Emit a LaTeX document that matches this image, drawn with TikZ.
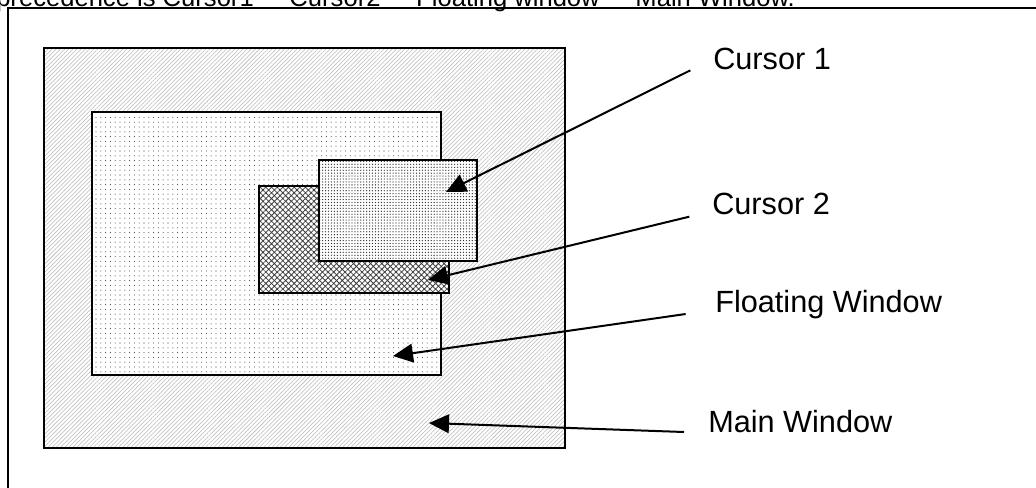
\documentclass[tikz,border=0pt]{standalone}
\usepackage{fontspec}
\setmainfont{Liberation Sans}
\newfontfamily\arrowfont{DejaVu Sans}
\usetikzlibrary{arrows.meta,patterns.meta}
\tikzset{
 win/.style={
 rectangle,
 draw=black,
 line width=1.4pt,
 inner sep=0pt,
 preaction={fill=white}
 },
 mainwin/.style={win, pattern={Lines[angle=45,distance=2.2pt,line width=0.4pt]}, pattern color=black!28},
 floatwin/.style={win, pattern={Dots[distance=3.6pt,radius=0.4pt]}, pattern color=black!75},
 cursortwo/.style={win, pattern={Hatch[angle=45,distance=3pt,line width=0.6pt]}, pattern color=black!75},
 cursorone/.style={win, pattern={Dots[distance=2.2pt,radius=0.5pt]}, pattern color=black!80},
 lbl/.style={anchor=base west, inner sep=0pt, font=\fontsize{23}{27}\selectfont},
 pointer/.style={-{Triangle[length=15pt,width=14pt]}, line width=1.5pt}
}

\begin{document}
\begin{tikzpicture}[x=0.75pt, y=-0.75pt]
 \useasboundingbox (0,0) rectangle (1036,487);
 \clip (0,0) rectangle (1036,487);

 % caption line, cut by the page top
 \node[anchor=base west, inner sep=0pt, font=\fontsize{19.2}{22}\selectfont] (note) at (-4,6)
 {precedence is Cursor1 \raisebox{4pt}{\arrowfont →} Cursor2 \raisebox{4pt}{\arrowfont →} Floating window \raisebox{4pt}{\arrowfont →} Main Window.};
 \draw[line width=1.4pt] (8,8) rectangle (1060,520);

 % windows, back to front
 \node[mainwin, minimum width=390.75pt, minimum height=300pt] (main) at (304.5,248) {};
 \node[floatwin, minimum width=261.75pt, minimum height=197.25pt] (float) at (266.5,243.5) {};
 \node[cursortwo, minimum width=142.5pt, minimum height=80.25pt] (cur2) at (354,239.5) {};
 \node[cursorone, minimum width=118.5pt, minimum height=75.75pt] (cur1) at (398,210.5) {};

 % labels
 \node[lbl] (cur1lbl) at (713,69) {Cursor 1};
 \node[lbl] (cur2lbl) at (712,214) {Cursor 2};
 \node[lbl] (floatlbl) at (715,312) {Floating Window};
 \node[lbl] (mainlbl) at (708,432) {Main Window};

 % arrow tips
 \coordinate (cur1tip) at (446,192);
 \coordinate (cur2tip) at (428,280);
 \coordinate (floattip) at (393,356);
 \coordinate (maintip) at (429,423);

 \draw[pointer] ([xshift=-17pt,yshift=-1pt]cur1lbl.base west) -- (cur1tip);
 \draw[pointer] ([xshift=-17pt,yshift=-2pt]cur2lbl.base west) -- (cur2tip);
 \draw[pointer] ([xshift=-22pt,yshift=-1.5pt]floatlbl.base west) -- (floattip);
 \draw[pointer] ([xshift=-18pt,yshift=0pt]mainlbl.base west) -- (maintip);
\end{tikzpicture}
\end{document}
